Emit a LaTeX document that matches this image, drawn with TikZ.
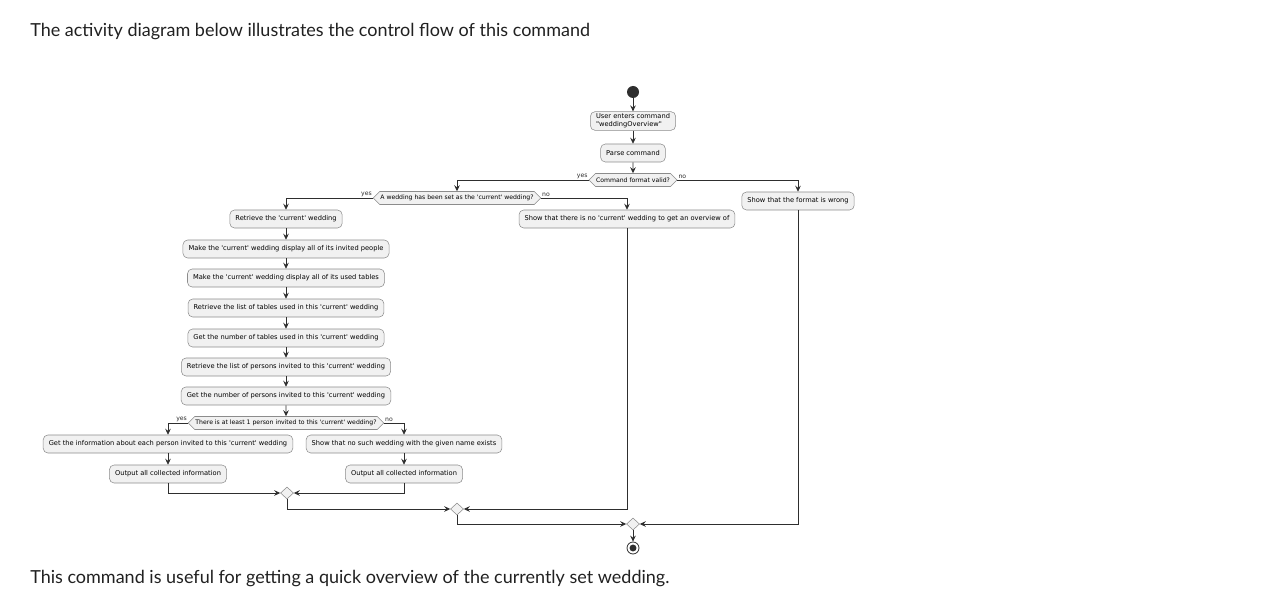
\documentclass[tikz,border=0pt]{standalone}
\usepackage{fontspec}
\setmainfont{Lato}
\newfontfamily\umlfont{DejaVu Sans}
\usetikzlibrary{arrows.meta}
\usetikzlibrary{shapes.geometric}
\usetikzlibrary{shapes.symbols}

\definecolor{umlfill}{HTML}{F1F1F1}
\definecolor{umlborder}{HTML}{8C8C8C}
\definecolor{umlline}{HTML}{2E2E2E}
\definecolor{pagetext}{HTML}{212121}

\begin{document}
\begin{tikzpicture}[x=0.75pt,y=-0.75pt]
		\tikzset{
			action/.style={draw=umlborder, fill=umlfill, rounded corners=3.5pt, font=\umlfont\fontsize{5}{6.2}\selectfont, minimum height=13.5pt, inner xsep=4.2pt, inner ysep=1.5pt, align=left},
			decision/.style={signal, signal to=west and east, draw=umlborder, fill=umlfill, font=\umlfont\fontsize{4.6}{5.5}\selectfont, minimum height=9.75pt, inner xsep=0.5pt, inner ysep=1pt},
			merge/.style={diamond, draw=umlborder, fill=umlfill, minimum width=9.8pt, minimum height=9pt, inner sep=0pt},
			flow/.style={draw=umlline, line width=0.6pt, -{Stealth[length=4.5pt,width=4.2pt,inset=1.6pt]}},
			guard/.style={font=\umlfont\fontsize{4.6}{5}\selectfont, text=umlline, inner sep=0.6pt},
			prose/.style={font=\fontsize{13.5}{16}\selectfont, text=pagetext, anchor=west, inner sep=0pt}
		}
		\useasboundingbox[fill=white] (0,0) rectangle (1285,606);
		\node[prose] (intro) at (30,32) {The activity diagram below illustrates the control flow of this command};
		\node[prose] (outro) at (30,579) {This command is useful for getting a quick overview of the currently set wedding.};

		\node[circle, fill=umlline, minimum size=9pt, inner sep=0pt] (start) at (633,92) {};
		\node[action] (enter) at (633,121) {User enters command\\"weddingOverview"};
		\node[action] (parse) at (633,153) {Parse command};
		\node[decision] (valid) at (633,180) {Command format valid?};
		\node[action] (wrong) at (798,201) {Show that the format is wrong};
		\node[decision] (hasCurrent) at (457,198) {A wedding has been set as the 'current' wedding?};
		\node[action] (retrieve) at (286,219) {Retrieve the 'current' wedding};
		\node[action] (noCurrent) at (627,219) {Show that there is no 'current' wedding to get an overview of};
		\node[action] (showPeople) at (286,249) {Make the 'current' wedding display all of its invited people};
		\node[action] (showTables) at (286,278) {Make the 'current' wedding display all of its used tables};
		\node[action] (listTables) at (286,308) {Retrieve the list of tables used in this 'current' wedding};
		\node[action] (countTables) at (286,338) {Get the number of tables used in this 'current' wedding};
		\node[action] (listPersons) at (286,367) {Retrieve the list of persons invited to this 'current' wedding};
		\node[action] (countPersons) at (286,396) {Get the number of persons invited to this 'current' wedding};
		\node[decision] (anyPerson) at (286,423) {There is at least 1 person invited to this 'current' wedding?};
		\node[action] (personInfo) at (168,444) {Get the information about each person invited to this 'current' wedding};
		\node[action] (outputYes) at (168,474) {Output all collected information};
		\node[action] (noWedding) at (404,444) {Show that no such wedding with the given name exists};
		\node[action] (outputNo) at (404,474) {Output all collected information};
		\node[merge] (mergeA) at (287,493) {};
		\node[merge] (mergeB) at (457,509) {};
		\node[merge] (mergeC) at (633,524) {};
		\node[circle, draw=umlline, line width=0.6pt, minimum size=9pt, inner sep=0pt] (stop) at (633,548) {};
		\fill[umlline] (stop) circle (2.6pt);

		\node[guard, anchor=south east] (validYes) at (valid.west) {yes};
		\node[guard, anchor=south west] (validNo) at (valid.east) {no};
		\node[guard, anchor=south east] (hasYes) at (hasCurrent.west) {yes};
		\node[guard, anchor=south west] (hasNo) at (hasCurrent.east) {no};
		\node[guard, anchor=south east] (anyYes) at (anyPerson.west) {yes};
		\node[guard, anchor=south west] (anyNo) at (anyPerson.east) {no};

		\draw[flow] (start) -- (enter);
		\draw[flow] (enter) -- (parse);
		\draw[flow] (parse) -- (valid);
		\draw[flow] (valid.west) -| (hasCurrent.north);
		\draw[flow] (valid.east) -| (wrong.north);
		\draw[flow] (hasCurrent.west) -| (retrieve.north);
		\draw[flow] (hasCurrent.east) -| (noCurrent.north);
		\foreach \from/\to in {retrieve/showPeople, showPeople/showTables, showTables/listTables, listTables/countTables, countTables/listPersons, listPersons/countPersons, countPersons/anyPerson}
			\draw[flow] (\from) -- (\to);
		\draw[flow] (anyPerson.west) -| (personInfo.north);
		\draw[flow] (anyPerson.east) -| (noWedding.north);
		\draw[flow] (personInfo) -- (outputYes);
		\draw[flow] (noWedding) -- (outputNo);
		\draw[flow] (outputYes.south) |- (mergeA.west);
		\draw[flow] (outputNo.south) |- (mergeA.east);
		\draw[flow] (mergeA.south) |- (mergeB.west);
		\draw[flow] (noCurrent.south) |- (mergeB.east);
		\draw[flow] (mergeB.south) |- (mergeC.west);
		\draw[flow] (wrong.south) |- (mergeC.east);
		\draw[flow] (mergeC) -- (stop);
	\end{tikzpicture}
\end{document}
